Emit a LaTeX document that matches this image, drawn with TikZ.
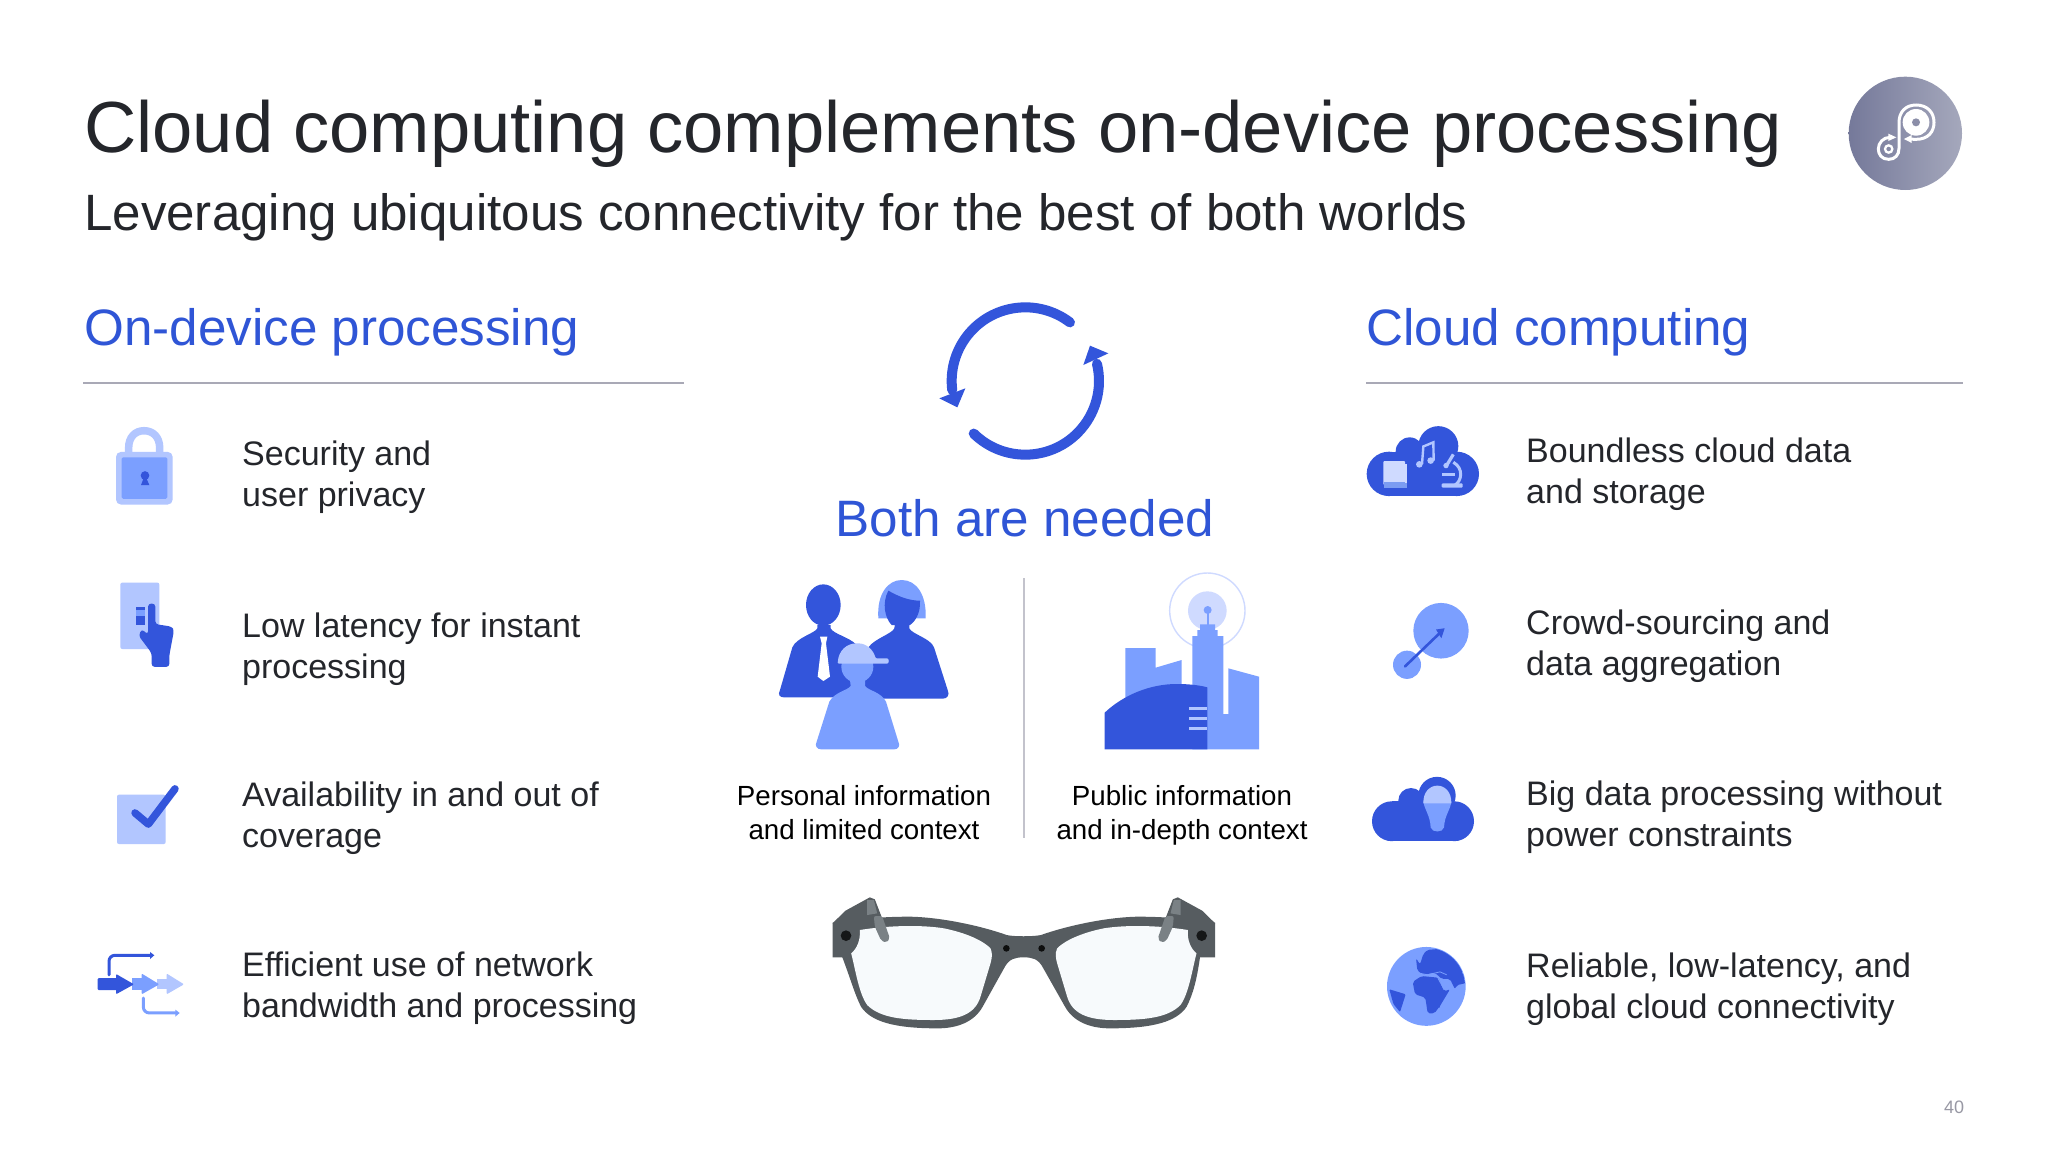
\documentclass[tikz,border=0pt]{standalone}
\usepackage{fontspec}
\setmainfont{Liberation Sans}
\definecolor{dk}{HTML}{3355DB}
\definecolor{md}{HTML}{7B9FFF}
\definecolor{lt}{HTML}{B2C6FF}
\definecolor{pale}{HTML}{CFDAFF}
\definecolor{ink}{HTML}{24262B}
\definecolor{hd}{HTML}{2F55D6}
\definecolor{rule}{HTML}{A9A9B6}
\definecolor{frameg}{HTML}{565C60}
\definecolor{templeg}{HTML}{7A8185}
\definecolor{lensc}{HTML}{F7FAFC}
\definecolor{bdgL}{HTML}{75799A}
\definecolor{bdgR}{HTML}{A5A8BC}
\definecolor{bdgM}{HTML}{8B8EA8}
\tikzset{
  zf/.style 2 args={shift={(#1,#2)},x=0.33333pt,y=-0.33333pt},
  zt/.style 2 args={shift={(#1,#2)},x=0.33333pt,y=-0.415pt},
  titlet/.style={anchor=base west,inner sep=0,text=ink,font=\fontsize{72.4}{72}\selectfont},
  subt/.style={anchor=base west,inner sep=0,text=ink,font=\fontsize{51.1}{51}\selectfont},
  headt/.style={anchor=base west,inner sep=0,text=hd,font=\fontsize{51.2}{51}\selectfont},
  itemt/.style={anchor=west,inner sep=0,text=ink,align=left,font=\fontsize{34}{41.2}\selectfont},
  capt/.style={anchor=center,inner sep=0,text=black,align=center,font=\fontsize{27.7}{33.5}\selectfont},
  rulel/.style={draw=rule,line width=1.6pt},
}
\begin{document}
\begin{tikzpicture}[x=1pt,y=-1pt]
\useasboundingbox (0,0) rectangle (2048,1152);
\fill[white] (0,0) rectangle (2048,1152);

% texts
\node[titlet] (title) at (84,152) {Cloud computing complements on-device processing};
\node[subt] (sub) at (84,230) {Leveraging ubiquitous connectivity for the best of both worlds};
\node[headt] (hl) at (84,345) {On-device processing};
\node[headt] (hr) at (1366,345) {Cloud computing};
\node[headt,anchor=base] (both) at (1025,536) {Both are needed};
\draw[rulel] (83,383) -- (684,383);
\draw[rulel] (1366,383) -- (1963,383);
\node[itemt] (l1) at (242,478) {\strut Security and\\\strut user privacy};
\node[itemt] (l2) at (242,650) {\strut Low latency for instant\\\strut processing};
\node[itemt] (l3) at (242,819) {\strut Availability in and out of\\\strut coverage};
\node[itemt] (l4) at (242,989) {\strut Efficient use of network\\\strut bandwidth and processing};
\node[itemt] (r1) at (1526,475) {\strut Boundless cloud data\\\strut and storage};
\node[itemt] (r2) at (1526,647) {\strut Crowd-sourcing and\\\strut data aggregation};
\node[itemt] (r3) at (1526,818) {\strut Big data processing without\\\strut power constraints};
\node[itemt] (r4) at (1526,990) {\strut Reliable, low-latency, and\\\strut global cloud connectivity};
\node[capt] (c1) at (864,816) {\strut Personal information\\\strut and limited context};
\node[capt] (c2) at (1182,816) {\strut Public information\\\strut and in-depth context};
\node[anchor=center,inner sep=0,text=rule!90!black,font=\fontsize{18}{18}\selectfont] (pg) at (1954,1107) {40};
\draw[draw=rule!70,line width=1.6pt] (1024,578) -- (1024,838);

% badge
\begin{scope}[zf={1830}{60}]
\shade[left color=bdgL,right color=bdgR] (226,220) circle (170);
\draw[white,line width=3pt,line cap=round] (240,237) .. controls (250,238) and (255,238) .. (258,238) .. controls (295,238) and (312,215) .. (312,187) .. controls (312,155) and (290,135) .. (258,135) .. controls (228,135) and (207,155) .. (207,187) -- (207,265) .. controls (207,285) and (195,298) .. (176,298) .. controls (155,298) and (145,283) .. (145,267) .. controls (145,248) and (160,232) .. (180,232);
\fill[white] (222,237) -- (245,225) -- (245,249) -- cycle;
\fill[white] (199,232) -- (175,221) -- (175,243) -- cycle;
\fill[white] (258,187) circle (40);
\fill[bdgM] (258,187) circle (12);
\draw[white,line width=2.3pt] (176,267) circle (11);
\end{scope}

% refresh arrows
\begin{scope}[zf={920}{290}]
\draw[dk,line width=10pt,line cap=round] (316,273) ++(-52.7:221) arc[start angle=-52.7,end angle=-187,radius=221];
\draw[dk,line width=10pt,line cap=round] (316,273) ++(134.5:221) arc[start angle=134.5,end angle=-13.5,radius=221];
\fill[dk] (58,325) -- (136,295) -- (112,352) -- cycle;
\fill[dk] (510,167) -- (565,190) -- (490,225) -- cycle;
\end{scope}

% left icons
\begin{scope}[zt={60}{400}]
% lock
\draw[lt,line width=7.5pt] (206,130) -- (206,115) .. controls (206,90) and (225,74) .. (252,74) .. controls (280,74) and (299,90) .. (299,115) -- (299,130);
\fill[lt,rounded corners=5pt] (168,125) rectangle (338,252);
\fill[md,rounded corners=1.5pt] (185,138) rectangle (322,238);
\fill[dk] (255,182) ellipse (13 and 10.5);
\fill[dk] (250,190) -- (260,190) -- (268,205) -- (243,205) -- cycle;
% hand
\fill[lt,rounded corners=2pt] (181,440) rectangle (298,600);
\fill[dk] (227,498) rectangle (255,505);
\fill[md] (227,505) rectangle (255,520);
\fill[dk] (227,520) rectangle (255,542);
\fill[dk,rounded corners=3pt] (264,505) .. controls (264,488) and (286,488) .. (286,505) -- (286,540) -- (335,546) -- (342,555) -- (328,615) -- (328,643) -- (275,643) -- (275,610) -- (236,568) -- (245,552) -- (264,565) -- cycle;
% check
\fill[lt,rounded corners=2pt] (171,951) rectangle (317,1070);
\draw[dk,line width=7.5pt,line cap=round,line join=round] (225,995) -- (265,1022) -- (345,937);
% flow
\fill[lt] (290,1395) rectangle (320,1420);
\fill[lt,rounded corners=1pt] (320,1382) -- (372,1408) -- (320,1432) -- cycle;
\fill[md] (215,1393) rectangle (245,1422);
\fill[md,rounded corners=1pt] (245,1382) -- (298,1408) -- (245,1432) -- cycle;
\fill[dk,rounded corners=1pt] (113,1393) rectangle (172,1422);
\fill[dk,rounded corners=1pt] (168,1383) -- (222,1408) -- (168,1432) -- cycle;
\draw[dk,line width=3pt,line cap=round,rounded corners=6pt] (147,1385) -- (147,1338) -- (272,1338);
\fill[dk] (283,1338) -- (270,1330) -- (270,1347) -- cycle;
\draw[md,line width=3pt,line cap=round,rounded corners=6pt] (250,1441) -- (250,1477) -- (347,1477);
\fill[md] (359,1477) -- (346,1469) -- (346,1486) -- cycle;
\end{scope}

% right icons
\begin{scope}[zt={1340}{400}]
% cloud 1
\fill[dk] (147,178) ellipse (67 and 53.5);
\fill[dk] (350,178) ellipse (67 and 53.5);
\fill[dk] (147,125) rectangle (350,232);
\fill[dk] (209,124) ellipse (42 and 34);
\fill[dk] (295,111) ellipse (60 and 48);
\fill[pale,rounded corners=1pt] (130,147) rectangle (195,205);
\fill[md!90!gray] (133,198) rectangle (200,213);
\fill[pale] (196,155) rectangle (200,200);
\fill[lt] (238,155) ellipse (10 and 8);
\fill[lt] (272,146) ellipse (10 and 8);
\draw[lt,line width=2.4pt] (246,155) -- (250,112) -- (280,102) -- (281,146);
% microscope
\draw[lt,line width=3.2pt] (340,131) -- (318,160);
\draw[lt,line width=2.6pt] (306,180) -- (345,180);
\draw[lt,line width=3pt] (340,150) .. controls (372,165) and (365,195) .. (345,205);
\fill[lt,rounded corners=1pt] (305,201) rectangle (368,211);
\fill[lt] (318,158) ellipse (8 and 6.5);
% crowd
\fill[md] (303,556) ellipse (83 and 67);
\fill[md] (201,638) ellipse (42 and 34);
\draw[dk,line width=2.6pt,line cap=round] (195,642) -- (300,561);
\fill[dk] (314,550) -- (288,553) -- (304,574) -- cycle;
% cloud 3
\fill[dk] (155,1015) ellipse (59 and 48);
\fill[dk] (343,1015) ellipse (59 and 48);
\fill[dk] (155,967) rectangle (343,1063);
\fill[dk] (213,965) ellipse (38 and 30);
\fill[dk] (291,953) ellipse (56 and 45);
\fill[md] (250,968) .. controls (255,990) and (270,1000) .. (272,1030) .. controls (276,1043) and (308,1043) .. (312,1030) .. controls (314,1000) and (330,990) .. (334,968) -- cycle;
\fill[lt] (250,972) .. controls (248,915) and (336,915) .. (334,972) -- cycle;
% globe
\fill[md] (259,1413) ellipse (118 and 95);
\begin{scope}
\clip (259,1413) ellipse (116 and 93);
\fill[dk,rounded corners=2pt] (228,1345) -- (240,1360) -- (250,1335) -- (262,1325) -- (310,1322) -- (350,1340) -- (378,1405) -- (350,1410) -- (345,1420) -- (330,1395) -- (305,1395) -- (285,1380) -- (250,1385) -- (232,1375) -- cycle;
\fill[dk,rounded corners=2pt] (218,1402) -- (245,1388) -- (295,1392) -- (312,1425) -- (330,1420) -- (300,1460) -- (283,1478) -- (263,1478) -- (256,1440) -- (225,1432) -- cycle;
\fill[dk,rounded corners=1pt] (148,1420) -- (197,1432) -- (180,1475) -- (160,1455) -- cycle;
\fill[dk] (296,1458) -- (304,1450) -- (298,1465) -- cycle;
\draw[md,line width=.8pt] (232,1380) -- (262,1385) -- (300,1378) -- (320,1385);
\draw[md,line width=.8pt] (295,1395) -- (312,1420);
\end{scope}
\end{scope}

% people
\begin{scope}[zf={760}{560}]
% man
\fill[dk] (190,135) ellipse (52 and 62);
\fill[dk] (172,195) -- (172,205) .. controls (165,220) and (110,232) .. (97,262) -- (60,390) .. controls (52,405) and (60,412) .. (72,412) -- (300,412) -- (290,255) .. controls (270,232) and (220,222) .. (212,205) -- (212,195) -- cycle;
\fill[white] (180,230) -- (202,230) -- (198,250) -- (210,350) -- (190,363) -- (173,350) -- (185,250) -- cycle;
% woman
\fill[md] (355,175) .. controls (350,100) and (385,60) .. (425,60) .. controls (470,60) and (500,105) .. (497,175) -- (460,175) -- (395,175) -- cycle;
\fill[dk] (385,92) .. controls (420,112) and (450,122) .. (480,122) .. controls (482,160) and (465,185) .. (450,195) -- (395,195) .. controls (375,175) and (365,130) .. (385,92) -- cycle;
\fill[dk] (405,190) -- (403,205) .. controls (395,222) and (345,235) .. (325,262) -- (300,416) -- (548,416) .. controls (562,416) and (570,405) .. (563,390) -- (522,262) .. controls (512,235) and (455,222) .. (448,205) -- (448,190) -- cycle;
% child
\fill[md] (292,320) circle (48);
\fill[md] (270,360) -- (272,378) .. controls (262,392) and (225,395) .. (208,425) -- (170,545) .. controls (163,558) and (172,568) .. (183,568) -- (403,568) .. controls (414,568) and (422,558) .. (415,545) -- (378,425) .. controls (362,395) and (325,392) .. (315,378) -- (315,360) -- cycle;
\fill[lt,rounded corners=1pt] (233,311) .. controls (235,270) and (262,250) .. (292,250) .. controls (320,250) and (340,270) .. (347,295) -- (378,295) .. controls (388,295) and (388,311) .. (378,311) -- cycle;
% city
\draw[pale,line width=1.4pt] (1342,152) circle (113);
\fill[pale] (1342,152) circle (58);
\fill[md] (1343,150) circle (12);
\draw[md,line width=2pt] (1343,150) -- (1343,200);
\fill[md] (1096,264) -- (1187,264) -- (1187,323) -- (1265,300) -- (1265,400) -- (1096,430) -- cycle;
\fill[md] (1297,568) -- (1297,228) -- (1312,228) -- (1312,210) -- (1320,210) -- (1320,193) -- (1365,193) -- (1365,210) -- (1373,210) -- (1373,228) -- (1390,228) -- (1390,462) -- (1405,462) -- (1405,325) -- (1497,350) -- (1497,568) -- cycle;
\fill[dk] (1034,568) -- (1034,458) .. controls (1090,405) and (1170,372) .. (1250,372) .. controls (1290,372) and (1320,376) .. (1342,382) -- (1342,568) -- cycle;
\draw[lt,line width=3pt] (1287,445) -- (1342,445) (1287,475) -- (1342,475) (1287,505) -- (1342,505);
\end{scope}

% glasses
\begin{scope}[zf={810}{880}]
\fill[frameg] (68,128) .. controls (150,115) and (230,110) .. (300,110) .. controls (400,112) and (520,140) .. (590,165) .. controls (610,170) and (670,170) .. (693,165) .. controls (763,140) and (883,112) .. (983,110) .. controls (1053,110) and (1133,115) .. (1215,128) -- (1215,232) -- (1170,232) .. controls (1160,300) and (1150,340) .. (1130,380) .. controls (1100,425) and (1030,445) .. (900,445) .. controls (840,445) and (790,425) .. (765,380) -- (700,265) .. controls (685,235) and (665,232) .. (641,232) .. controls (617,232) and (597,235) .. (582,265) -- (518,380) .. controls (493,425) and (443,445) .. (383,445) .. controls (253,445) and (183,425) .. (153,380) .. controls (133,340) and (123,300) .. (97,232) -- (68,232) -- cycle;
\foreach \m in {1,-1}{
\begin{scope}[shift={(641.5,0)},xscale=\m]
\fill[lensc] (-492,150) .. controls (-400,135) and (-300,135) .. (-240,145) .. controls (-190,155) and (-130,175) .. (-100,205) .. controls (-93,220) and (-96,235) .. (-100,250) -- (-130,350) .. controls (-145,400) and (-190,420) .. (-270,420) .. controls (-360,420) and (-430,415) .. (-470,375) .. controls (-495,340) and (-505,270) .. (-518,220) .. controls (-500,205) and (-490,180) .. (-492,150) -- cycle;
% temple
\fill[frameg] (-574,130) -- (-535,92) -- (-462,52) -- (-447,58) -- (-425,115) -- (-480,122) -- (-540,130) -- cycle;
\fill[templeg,rounded corners=2pt] (-450,108) -- (-425,108) -- (-402,175) -- (-412,188) -- (-428,182) -- (-447,140) -- cycle;
\fill[templeg] (-470,60) -- (-450,60) -- (-440,100) -- (-470,105) -- cycle;
\end{scope}}
\fill[black!75!frameg] (108,167) circle (16);
\fill[black!75!frameg] (1175,167) circle (16);
\fill[black!85!frameg] (589,205) circle (10);
\fill[black!85!frameg] (695,205) circle (10);
\end{scope}
\end{tikzpicture}
\end{document}
